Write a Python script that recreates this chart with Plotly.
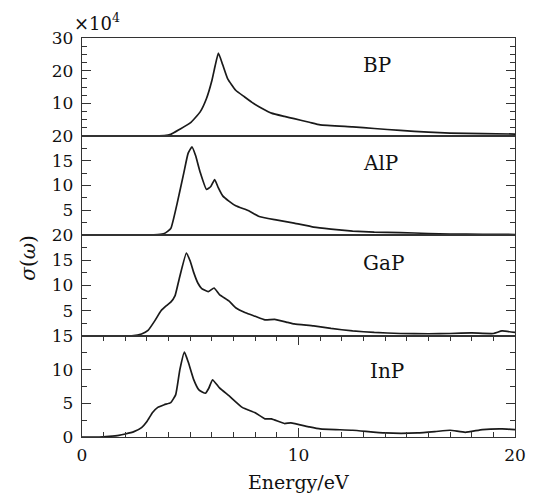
import plotly.graph_objects as go

# ---- data (sigma in units of 1e4) ----
bp_energy = [0, 1, 2, 3, 3.8, 4.1, 4.5, 5.0, 5.45, 5.75, 6.0, 6.15, 6.3, 6.5, 6.73, 7.1, 7.5, 7.85,
             8.3, 8.75, 9.35, 9.8, 10.5, 11.0, 12.5, 13.5, 14.7, 16, 17, 18.5, 20]
bp_sigma = [0, 0, 0, 0, 0.1, 0.5, 2.0, 4.0, 7.3, 11.5, 17, 21.5, 25.4, 21.8, 17.5, 14.0, 12, 10.3,
            8.5, 7.0, 6.0, 5.3, 4.2, 3.4, 2.8, 2.3, 1.7, 1.2, 0.9, 0.7, 0.6]

alp_energy = [0, 2, 3, 3.5, 3.8, 4.1, 4.4, 4.7, 4.9, 5.08, 5.25, 5.45, 5.75, 5.95, 6.13, 6.3, 6.5,
              6.8, 7.1, 7.7, 8.15, 8.9, 9.8, 10.7, 11.5, 12.5, 13.5, 14.7, 16, 17, 18.5, 20]
alp_sigma = [0, 0, 0.02, 0.1, 0.3, 1.3, 6.5, 12.5, 16.5, 17.8, 16.0, 12.8, 9.2, 9.8, 11.2, 9.5, 7.9,
             6.8, 5.9, 4.9, 3.8, 3.1, 2.4, 1.6, 1.2, 0.8, 0.6, 0.5, 0.3, 0.2, 0.15, 0.1]

gap_energy = [0, 1.5, 2.3, 2.75, 3.05, 3.36, 3.65, 3.9, 4.1, 4.3, 4.5, 4.82, 5.0, 5.15, 5.35, 5.53,
              5.83, 6.1, 6.35, 6.8, 7.1, 7.55, 8.0, 8.45, 8.9, 9.5, 9.8, 10.7, 11.5, 12.5, 13.5,
              14.7, 16, 17, 18, 19, 19.4, 20]
gap_sigma = [0, 0, 0.05, 0.4, 1.1, 3.0, 5.0, 6.0, 6.7, 8.0, 11.5, 16.4, 14.8, 12.7, 10.5, 9.4,
             8.8, 9.5, 8.2, 6.9, 5.6, 4.6, 3.9, 3.2, 3.3, 2.7, 2.4, 2.0, 1.5, 1.0, 0.7,
             0.5, 0.45, 0.5, 0.6, 0.5, 1.0, 0.7]

inp_energy = [0, 0.8, 1.25, 1.7, 2.0, 2.4, 2.75, 3.0, 3.25, 3.5, 3.8, 4.1, 4.33, 4.52, 4.73, 4.9,
              5.15, 5.4, 5.7, 5.85, 6.03, 6.35, 6.8, 7.4, 8.0, 8.45, 8.75, 9.35, 9.65, 10.5, 11,
              12.5, 14, 15.5, 16.3, 17, 17.7, 18.5, 19.4, 20]
inp_sigma = [0, 0, 0.1, 0.25, 0.45, 0.8, 1.4, 2.3, 3.6, 4.4, 4.8, 5.1, 6.3, 10.0, 12.6, 11.2,
             8.6, 7.0, 6.5, 7.2, 8.5, 7.3, 6.1, 4.4, 3.6, 2.7, 2.7, 2.0, 2.1, 1.5, 1.2,
             1.0, 0.6, 0.6, 0.8, 1.0, 0.7, 1.1, 1.2, 1.1]

panel_names = ["BP", "AlP", "GaP", "InP"]
panel_ranges = [[0, 30], [0, 20], [0, 20], [0, 15]]
panel_tickvals = [[10, 20, 30], [5, 10, 15, 20], [5, 10, 15, 20], [0, 5, 10, 15]]
y_minor_step = 2.5
x_range = [0, 20]
x_tickvals = [0, 10, 20]
x_minor_step = 1
label_pos = [(12.9, 21.7), (12.9, 14.5), (12.9, 14.5), (13.2, 9.8)]

series = [(bp_energy, bp_sigma), (alp_energy, alp_sigma), (gap_energy, gap_sigma), (inp_energy, inp_sigma)]

# ---- layout geometry ----
W, H = 533, 500
ML, MR, MT, MB = 82, 7, 38, 63
PLOT_H = H - MT - MB
panel_px = [(38, 136), (136, 235), (235, 336), (336, 437)]  # top/bottom in pixels
domains = [[(H - MB - b) / PLOT_H, (H - MB - t) / PLOT_H] for t, b in panel_px]

FONT = "DejaVu Serif"
LINE = "#333333"
MAJOR_LEN, MINOR_LEN = 9, 5

fig = go.Figure()
annotations = []
layout = dict(
    width=W, height=H,
    margin=dict(l=ML, r=MR, t=MT, b=MB),
    paper_bgcolor="white", plot_bgcolor="white",
    showlegend=False,
    font=dict(family=FONT, size=17, color="#111111"),
)

for i, ((xe, ys), name) in enumerate(zip(series, panel_names)):
    n = "" if i == 0 else str(i + 1)
    is_bottom = (i == 3)
    lo, hi = panel_ranges[i]

    fig.add_trace(go.Scatter(
        x=xe, y=ys, mode="lines", xaxis="x" + n, yaxis="y" + n,
        line=dict(color="#1a1a1a", width=1.7, shape="spline", smoothing=0.4),
        hoverinfo="skip",
    ))
    layout["xaxis" + n] = dict(
        domain=[0, 1], anchor="y" + n, range=x_range,
        showline=True, linecolor=LINE, linewidth=1.3,
        mirror="allticks" if is_bottom else True,
        showgrid=False, zeroline=False,
        ticks="inside" if is_bottom else "", ticklen=MAJOR_LEN, tickwidth=1.3, tickcolor=LINE,
        tickvals=x_tickvals, showticklabels=is_bottom,
        ticklabeloverflow="allow", ticklabelstandoff=2,
        minor=dict(tick0=0, dtick=x_minor_step, ticks="inside" if is_bottom else "",
                   ticklen=MINOR_LEN, tickwidth=1.3, tickcolor=LINE),
    )
    layout["yaxis" + n] = dict(
        domain=domains[i], anchor="x" + n, range=[lo, hi],
        showline=True, linecolor=LINE, linewidth=1.3, mirror="allticks",
        showgrid=False, zeroline=False,
        ticks="inside", ticklen=MAJOR_LEN, tickwidth=1.3, tickcolor=LINE,
        tickvals=panel_tickvals[i], ticklabelstandoff=4, ticklabeloverflow="allow",
        minor=dict(tick0=0, dtick=y_minor_step, ticks="inside",
                   ticklen=MINOR_LEN, tickwidth=1.3, tickcolor=LINE),
    )

    lx, ly = label_pos[i]
    annotations.append(dict(
        x=lx, y=ly, xref="x" + n, yref="y" + n, text=name, showarrow=False,
        xanchor="left", yanchor="middle", font=dict(family=FONT, size=20, color="#111111"),
    ))

annotations.append(dict(
    x=-0.024, y=1.04, xref="paper", yref="paper", text="×10<sup>4</sup>", showarrow=False,
    xanchor="left", yanchor="middle", font=dict(family=FONT, size=18, color="#111111"),
))
annotations.append(dict(
    x=-0.124, y=0.45, xref="paper", yref="paper", text="<i>σ</i>(<i>ω</i>)", showarrow=False,
    textangle=-90, xanchor="center", yanchor="middle", font=dict(family=FONT, size=20, color="#111111"),
))
annotations.append(dict(
    x=0.5, y=-0.112, xref="paper", yref="paper", text="Energy/eV", showarrow=False,
    xanchor="center", yanchor="middle", font=dict(family=FONT, size=19, color="#111111"),
))

layout["annotations"] = annotations
fig.update_layout(**layout)
fig.write_html("out.html", config={"displayModeBar": False},
               post_script="document.body.style.margin='0';document.body.style.padding='0';")
